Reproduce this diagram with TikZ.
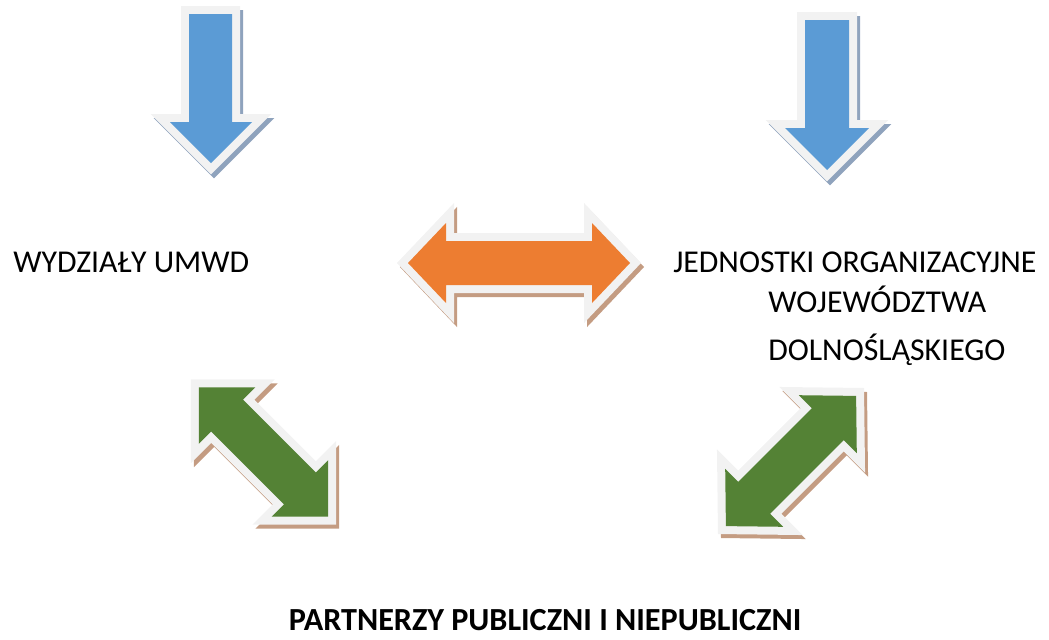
\documentclass[tikz,border=0pt]{standalone}
\usepackage{fontspec}
\setmainfont{Carlito}
\usepackage{tikz}
\usetikzlibrary{positioning}
\definecolor{myblue}{RGB}{91,155,213}
\definecolor{myorange}{RGB}{237,125,49}
\definecolor{mygreen}{RGB}{84,130,53}
\definecolor{myrim}{RGB}{242,242,242}
\definecolor{shdblue}{RGB}{143,163,189}
\definecolor{shdbrown}{RGB}{196,156,130}
\tikzset{
  fatarrow/.style 2 args={draw=myrim, line width=0.4cm, line join=miter,
    preaction={draw=#2, fill=#2, line width=0.4cm, line join=miter,
      transform canvas={shift={(3,4)}}},
    postaction={fill=#1}},
  unittext/.style={font=\fontsize{22.6}{26}\selectfont, inner sep=0pt,
    anchor=base west},
  partnertext/.style={font=\fontsize{22.9}{26}\selectfont\bfseries,
    inner sep=0pt, anchor=base}
}

\begin{document}
\begin{tikzpicture}[x=0.025cm, y=-0.025cm]
  \useasboundingbox (0,0) rectangle (1049,639);

  % Top arrows
  \path[fatarrow={myblue}{shdblue}] (189,14) -- (232,14) -- (232,122)
    -- (252,122) -- (211,163) -- (170,122) -- (189,122) -- cycle;
  \path[fatarrow={myblue}{shdblue}] (805,20) -- (849,20) -- (849,128)
    -- (869,128) -- (827,170) -- (785,128) -- (805,128) -- cycle;

  % Middle double arrow
  \path[fatarrow={myorange}{shdbrown}] (408,263) -- (446,223) -- (446,241)
    -- (592,241) -- (592,223) -- (630,263) -- (592,303) -- (592,285)
    -- (446,285) -- (446,303) -- cycle;

  % Lower double arrows
  \path[fatarrow={mygreen}{shdbrown}] (198.8,387.3) -- (255.4,387.3)
    -- (243.0,399.7) -- (315.8,472.5) -- (328.2,460.1) -- (328.2,516.7)
    -- (271.6,516.7) -- (284.0,504.3) -- (211.2,431.5) -- (198.8,443.9) -- cycle;
  \path[fatarrow={mygreen}{shdbrown}] (856.1,395.9) -- (856.8,453.2)
    -- (843.7,440.1) -- (770.1,513.7) -- (783.2,526.8) -- (725.9,526.1)
    -- (725.2,468.8) -- (738.3,481.9) -- (811.9,408.3) -- (798.8,395.2) -- cycle;

  % Labels
  \node[unittext] (wydzialy) at (13,272) {WYDZIAŁY UMWD};
  \node[unittext] (jednostki) at (673,272) {JEDNOSTKI ORGANIZACYJNE};
  \node[unittext] (wojewodztwa) at (768,312) {WOJEWÓDZTWA};
  \node[unittext] (dolnoslaskie) at (768,360) {DOLNOŚLĄSKIEGO};
  \node[partnertext] (partnerzy) at (545,630) {PARTNERZY PUBLICZNI I NIEPUBLICZNI};
\end{tikzpicture}
\end{document}
